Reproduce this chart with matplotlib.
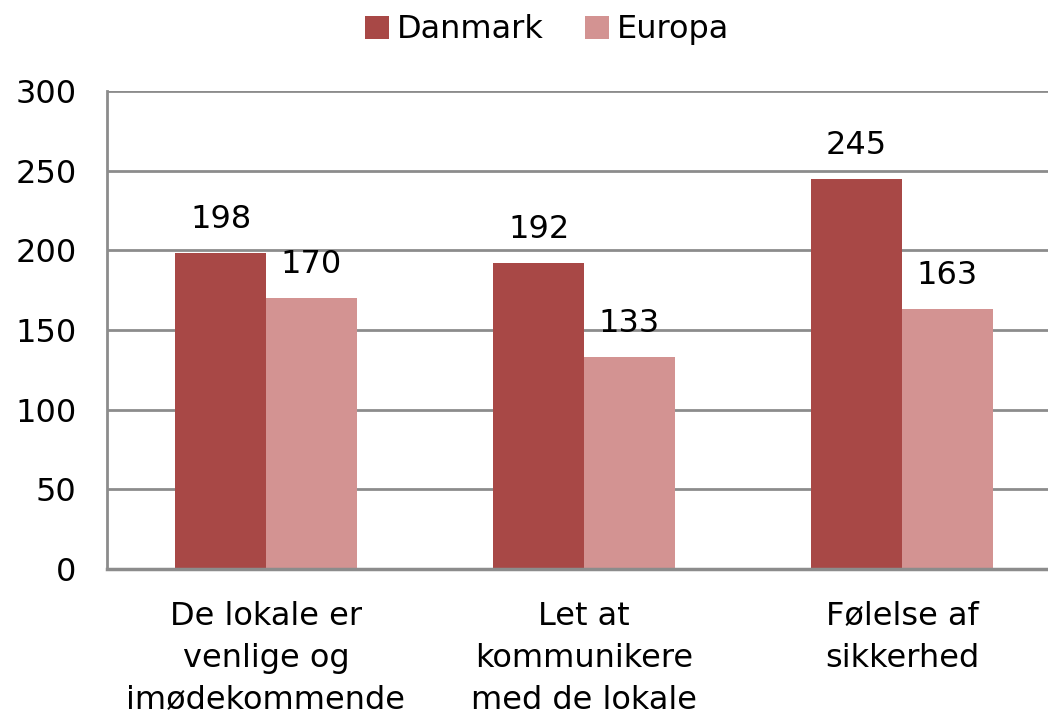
import numpy as np
import matplotlib.pyplot as plt

categories = ["De lokale er\nvenlige og\nimødekommende",
              "Let at\nkommunikere\nmed de lokale",
              "Følelse af\nsikkerhed"]
danmark = [198, 192, 245]
europa = [170, 133, 163]

c_dk = "#A84846"
c_eu = "#D39392"

fig = plt.figure(figsize=(10.48, 7.14), dpi=100)
ax = fig.add_axes([0.1021, 0.2031, 0.9103, 0.6695])

x = np.arange(len(categories))
w = 0.285
b1 = ax.bar(x - w / 2, danmark, w, color=c_dk, label="Danmark")
b2 = ax.bar(x + w / 2, europa, w, color=c_eu, label="Europa")

for bars, vals in [(b1, danmark), (b2, europa)]:
    for b, v in zip(bars, vals):
        ax.annotate(str(v), (b.get_x() + b.get_width() / 2, v),
                    xytext=(0, 13), textcoords="offset points",
                    ha="center", va="bottom", fontsize=23)

ax.set_xlim(-0.5, 2.5)
ax.set_ylim(0, 300)
ax.set_yticks(range(0, 301, 50))
ax.yaxis.grid(True, color="#8c8c8c", linewidth=2)
ax.set_axisbelow(True)
for s in ["top", "right"]:
    ax.spines[s].set_visible(False)
ax.spines["left"].set_color("#8c8c8c")
ax.spines["left"].set_linewidth(2)
ax.spines["left"].set_bounds(0, 300)
ax.spines["bottom"].set_color("#8c8c8c")
ax.spines["bottom"].set_linewidth(2.5)
ax.tick_params(axis="both", length=0)
ax.tick_params(axis="y", pad=22, labelsize=23)
ax.tick_params(axis="x", pad=23, labelsize=23)
ax.set_xticks(x)
ax.set_xticklabels(categories, linespacing=1.45)

fig.legend(loc="upper center", bbox_to_anchor=(0.522, 1.02), ncol=2,
           frameon=False, fontsize=23, handlelength=0.75, handleheight=0.75,
           handletextpad=0.25, columnspacing=1.3)

fig.savefig("out.png", dpi=100)
